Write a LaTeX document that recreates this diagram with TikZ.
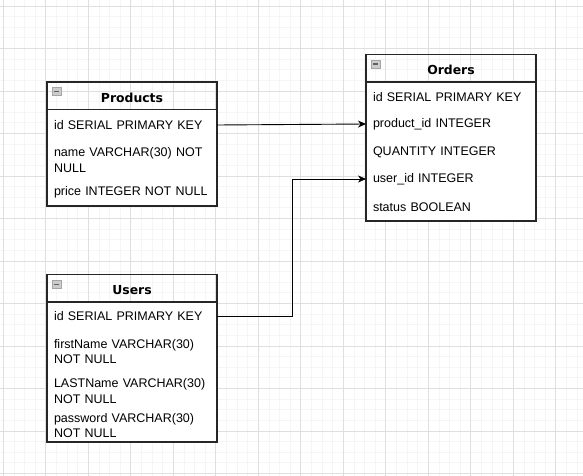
\documentclass[tikz,border=0pt]{standalone}
\usepackage{fontspec}
\setmainfont{Liberation Sans}
\newfontfamily\headfont{DejaVu Sans}
\usetikzlibrary{arrows.meta}

\tikzset{
  minor/.style={gray!8, line width=0.8pt},
  major/.style={gray!25, line width=0.8pt},
  body/.style={draw=black!85, line width=1.1pt, fill=white, anchor=north west, outer sep=0pt,
    minimum width=170pt},
  head/.style={draw=black!85, line width=1.1pt, anchor=south west, outer sep=0pt, minimum width=170pt,
    minimum height=27.5pt, font=\headfont\bfseries\fontsize{12.4}{14}\selectfont,
    text height=13pt, text depth=0pt},
  field/.style={anchor=west, text width=156pt, inner xsep=7pt, inner ysep=0pt, outer sep=0pt,
    align=left, font=\fontsize{12.5}{15.5}\selectfont},
  ico/.style={draw=gray!70, fill=gray!40, minimum width=9pt, minimum height=8pt, inner sep=0pt,
    text=gray!75!black, anchor=north west},
  link/.style={-{Stealth[length=8pt,width=7pt,inset=2.5pt]}, line width=0.9pt}
}

\begin{document}
\begin{tikzpicture}[x=1pt, y=-1pt]
\useasboundingbox (0,0) rectangle (583,476);
% grid
\foreach \k in {0,...,54} \draw[minor] ({3.3+10.625*\k},0) -- ++(0,476);
\foreach \k in {0,...,44} \draw[minor] (0,{6+10.625*\k}) -- ++(583,0);
\foreach \k in {0,...,13} \draw[major] ({3.3+42.5*\k},0) -- ++(0,476);
\foreach \k in {0,...,11} \draw[major] (0,{6+42.5*\k}) -- ++(583,0);

% Products
\node[body, minimum height=96.5pt] (pb) at (47,109.5) {};
\node[head] (ph) at (pb.north west) {Products};
\node[ico] (pi) at ([shift={(5,5.5)}]ph.north west) {\rule{5pt}{1.4pt}};
\node[field] (p1) at (47,125) {id SERIAL PRIMARY KEY};
\node[field] (p2) at (47,160) {name VARCHAR(30) NOT\\NULL};
\node[field] (p3) at (47,192) {price INTEGER NOT NULL};

% Orders
\node[body, minimum height=139pt] (ob) at (366,82) {};
\node[head] (oh) at (ob.north west) {Orders};
\node[ico] (oi) at ([shift={(5,5.5)}]oh.north west) {\rule{5pt}{1.4pt}};
\node[field] (o1) at (366,97) {id SERIAL PRIMARY KEY};
\node[field] (o2) at (366,124) {product\_id INTEGER};
\node[field] (o3) at (366,152) {QUANTITY INTEGER};
\node[field] (o4) at (366,179) {user\_id INTEGER};
\node[field] (o5) at (366,207) {status BOOLEAN};

% Users
\node[body, minimum height=140pt] (ub) at (47,302) {};
\node[head] (uh) at (ub.north west) {Users};
\node[ico] (ui) at ([shift={(5,5.5)}]uh.north west) {\rule{5pt}{1.4pt}};
\node[field] (u1) at (47,316) {id SERIAL PRIMARY KEY};
\node[field] (u2) at (47,351.5) {firstName VARCHAR(30)\\NOT NULL};
\node[field] (u3) at (47,391) {LASTName VARCHAR(30)\\NOT NULL};
\node[field] (u4) at (47,425.5) {password VARCHAR(30)\\NOT NULL};

% links
\coordinate (k) at (292,0);
\draw[link] (p1.east) -- (o2.west);
\draw[link] (u1.east) -- (u1.east -| k) |- (o4.west);
\end{tikzpicture}
\end{document}
